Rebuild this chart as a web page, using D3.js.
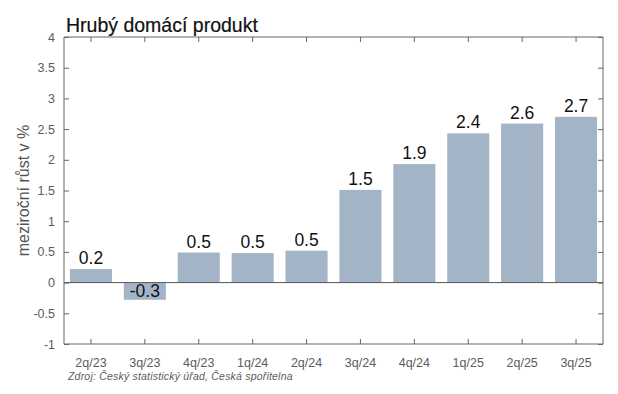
<!DOCTYPE html>
<html>
<head>
<meta charset="utf-8">
<script src="https://cdn.jsdelivr.net/npm/d3@7"></script>
<style>
  body { margin: 0; background: #fff; }
  svg { font-family: "Liberation Sans", Arial, sans-serif; }
</style>
</head>
<body>
<div id="chart"></div>
<script>
// data
const quarters = ["2q/23", "3q/23", "4q/23", "1q/24", "2q/24", "3q/24", "4q/24", "1q/25", "2q/25", "3q/25"];
const growth = [0.22, -0.28, 0.49, 0.48, 0.52, 1.51, 1.93, 2.43, 2.59, 2.70];
const valueLabels = ["0.2", "-0.3", "0.5", "0.5", "0.5", "1.5", "1.9", "2.4", "2.6", "2.7"];
const yTicks = [-1, -0.5, 0, 0.5, 1, 1.5, 2, 2.5, 3, 3.5, 4];

const width = 618, height = 394;
const margin = {top: 37, right: 15, bottom: 50, left: 64};
const innerW = width - margin.left - margin.right;
const innerH = height - margin.top - margin.bottom;

const svg = d3.select("#chart").append("svg")
    .attr("width", width)
    .attr("height", height);

const g = svg.append("g")
    .attr("transform", `translate(${margin.left},${margin.top})`);

let x = d3.scaleBand()
    .domain(quarters)
    .range([0, innerW])
    .paddingInner(0.22)
    .paddingOuter(0.11);

let y = d3.scaleLinear()
    .domain([-1, 4])
    .range([innerH, 0]);

// bars
g.selectAll("rect.bar")
    .data(growth)
    .enter()
    .append("rect")
    .attr("class", "bar")
    .attr("x", (d, i) => x(quarters[i]))
    .attr("y", d => y(Math.max(0, d)))
    .attr("width", x.bandwidth())
    .attr("height", d => Math.abs(y(d) - y(0)))
    .attr("fill", "#a3b4c7");

// zero line
g.append("line")
    .attr("x1", 0).attr("x2", innerW)
    .attr("y1", y(0)).attr("y2", y(0))
    .attr("stroke", "#555")
    .attr("stroke-width", 1);

// value labels
g.selectAll("text.val")
    .data(growth)
    .enter()
    .append("text")
    .attr("class", "val")
    .attr("x", (d, i) => x(quarters[i]) + x.bandwidth() / 2)
    .attr("y", d => d >= 0 ? y(d) - 5 : y(0) + 14)
    .attr("text-anchor", "middle")
    .style("font-size", "17.5px")
    .style("fill", "#111")
    .text((d, i) => valueLabels[i]);

// axes, ticks pointing inward like matlab
const axisColor = "#666";
let yLeft = g.append("g")
    .call(d3.axisLeft(y).tickValues(yTicks).tickSize(-5).tickPadding(9).tickFormat(d => String(d)));
let yRight = g.append("g")
    .attr("transform", `translate(${innerW},0)`)
    .call(d3.axisRight(y).tickValues(yTicks).tickSize(-5).tickFormat(""));
let xBottom = g.append("g")
    .attr("transform", `translate(0,${innerH})`)
    .call(d3.axisBottom(x).tickSize(-5).tickPadding(14));
let xTop = g.append("g")
    .call(d3.axisTop(x).tickSize(-5).tickFormat(""));

[yLeft, yRight, xBottom, xTop].forEach(a => {
    a.select(".domain").attr("stroke", axisColor);
    a.selectAll(".tick line").attr("stroke", axisColor);
    a.selectAll(".tick text").attr("fill", "#5c5c5c").style("font-size", "12.5px");
});
xBottom.selectAll(".domain").attr("d", `M0,0H${innerW}`);
xTop.selectAll(".domain").attr("d", `M0,0H${innerW}`);
yLeft.selectAll(".domain").attr("d", `M0,${innerH}V0`);
yRight.selectAll(".domain").attr("d", `M0,${innerH}V0`);

// y axis title
svg.append("text")
    .attr("transform", `translate(25, ${margin.top + y(1.5)}) rotate(-90)`)
    .attr("text-anchor", "middle")
    .attr("dominant-baseline", "middle")
    .style("font-size", "16px")
    .style("fill", "#555")
    .text("meziroční růst v %");

// title
svg.append("text")
    .attr("x", 66)
    .attr("y", 32)
    .style("font-size", "19.5px")
    .style("fill", "#111")
    .style("stroke", "#111")
    .style("stroke-width", "0.2px")
    .text("Hrubý domácí produkt");

// source
svg.append("text")
    .attr("x", 68)
    .attr("y", 380)
    .style("font-size", "10.5px")
    .style("font-style", "italic")
    .style("letter-spacing", "0.2px")
    .style("fill", "#5c5c5c")
    .text("Zdroj: Český statistický úřad, Česká spořitelna");
</script>
</body>
</html>
